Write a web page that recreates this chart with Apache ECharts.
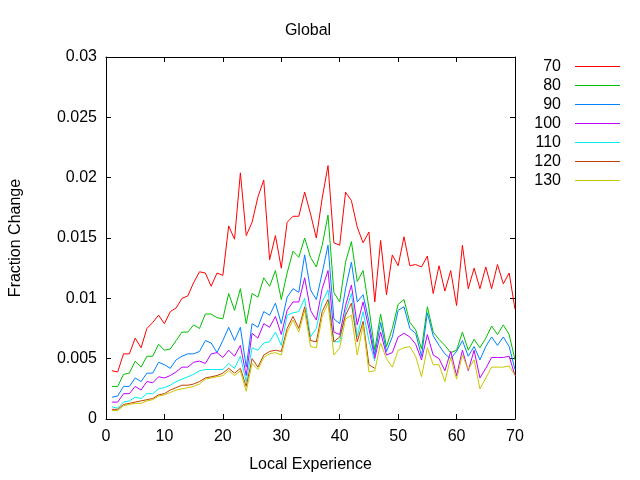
<!DOCTYPE html>
<html>
<head>
<meta charset="utf-8">
<script src="https://cdn.jsdelivr.net/npm/echarts@6/dist/echarts.min.js"></script>
<style>html,body{margin:0;padding:0;background:#fff;}#c{width:640px;height:480px;}</style>
</head>
<body>
<div id="c"></div>
<script>
const experience = [1,2,3,4,5,6,7,8,9,10,11,12,13,14,15,16,17,18,19,20,21,22,23,24,25,26,27,28,29,30,31,32,33,34,35,36,37,38,39,40,41,42,43,44,45,46,47,48,49,50,51,52,53,54,55,56,57,58,59,60,61,62,63,64,65,66,67,68,69,70];
const seriesNames = ["70","80","90","100","110","120","130"];
const s70 = [0.0040,0.0039,0.0054,0.0054,0.0067,0.0059,0.0075,0.0080,0.0086,0.0079,0.0089,0.0092,0.0100,0.0102,0.0113,0.0122,0.0121,0.0110,0.0121,0.0119,0.0160,0.0149,0.0204,0.0152,0.0163,0.0184,0.0198,0.0132,0.0152,0.0125,0.0163,0.0168,0.0168,0.0188,0.0170,0.0150,0.0183,0.0210,0.0146,0.0144,0.0188,0.0181,0.0159,0.0146,0.0155,0.0097,0.0148,0.0103,0.0136,0.0127,0.0151,0.0127,0.0128,0.0126,0.0135,0.0104,0.0127,0.0106,0.0123,0.0094,0.0144,0.0108,0.0125,0.0108,0.0126,0.0108,0.0128,0.0112,0.0121,0.0091];
const s80 = [0.0027,0.0027,0.0037,0.0038,0.0048,0.0043,0.0052,0.0052,0.0062,0.0057,0.0058,0.0065,0.0072,0.0072,0.0078,0.0075,0.0087,0.0087,0.0084,0.0083,0.0104,0.0090,0.0108,0.0079,0.0104,0.0101,0.0117,0.0110,0.0123,0.0099,0.0121,0.0139,0.0134,0.0150,0.0134,0.0126,0.0144,0.0169,0.0105,0.0097,0.0130,0.0147,0.0114,0.0123,0.0092,0.0057,0.0087,0.0060,0.0075,0.0095,0.0099,0.0080,0.0074,0.0058,0.0093,0.0072,0.0066,0.0061,0.0055,0.0057,0.0072,0.0057,0.0066,0.0059,0.0067,0.0077,0.0070,0.0078,0.0070,0.0049];
const s90 = [0.0018,0.0019,0.0027,0.0027,0.0034,0.0031,0.0038,0.0038,0.0047,0.0045,0.0042,0.0049,0.0052,0.0054,0.0054,0.0056,0.0065,0.0063,0.0055,0.0065,0.0076,0.0065,0.0076,0.0043,0.0079,0.0076,0.0089,0.0086,0.0096,0.0079,0.0101,0.0108,0.0105,0.0136,0.0107,0.0099,0.0121,0.0144,0.0083,0.0079,0.0108,0.0130,0.0097,0.0103,0.0081,0.0053,0.0080,0.0056,0.0068,0.0090,0.0093,0.0075,0.0071,0.0052,0.0088,0.0069,0.0061,0.0054,0.0050,0.0056,0.0065,0.0052,0.0060,0.0049,0.0060,0.0068,0.0061,0.0068,0.0060,0.0041];
const s100 = [0.0014,0.0014,0.0021,0.0021,0.0027,0.0024,0.0031,0.0030,0.0035,0.0034,0.0036,0.0039,0.0043,0.0043,0.0047,0.0048,0.0046,0.0054,0.0055,0.0051,0.0057,0.0052,0.0061,0.0036,0.0071,0.0067,0.0079,0.0076,0.0085,0.0070,0.0090,0.0097,0.0097,0.0117,0.0090,0.0082,0.0108,0.0123,0.0072,0.0070,0.0094,0.0111,0.0078,0.0097,0.0075,0.0050,0.0072,0.0053,0.0055,0.0068,0.0071,0.0068,0.0062,0.0049,0.0070,0.0053,0.0050,0.0040,0.0056,0.0036,0.0057,0.0040,0.0057,0.0034,0.0042,0.0051,0.0051,0.0051,0.0052,0.0036];
const s110 = [0.0010,0.0009,0.0014,0.0015,0.0018,0.0017,0.0021,0.0021,0.0025,0.0026,0.0028,0.0031,0.0033,0.0035,0.0037,0.0040,0.0041,0.0041,0.0041,0.0041,0.0046,0.0042,0.0052,0.0031,0.0059,0.0057,0.0063,0.0064,0.0072,0.0061,0.0086,0.0088,0.0089,0.0100,0.0068,0.0075,0.0097,0.0107,0.0064,0.0064,0.0089,0.0104,0.0068,0.0089,0.0065,0.0048];
const s120 = [0.0008,0.0008,0.0012,0.0013,0.0014,0.0015,0.0016,0.0017,0.0020,0.0021,0.0024,0.0026,0.0028,0.0028,0.0029,0.0031,0.0034,0.0035,0.0036,0.0038,0.0042,0.0038,0.0042,0.0027,0.0050,0.0043,0.0053,0.0056,0.0057,0.0056,0.0075,0.0085,0.0075,0.0093,0.0065,0.0064,0.0089,0.0099,0.0064,0.0068,0.0086,0.0096,0.0064,0.0081,0.0045,0.0042];
const s130 = [0.0007,0.0007,0.0011,0.0012,0.0013,0.0013,0.0015,0.0016,0.0019,0.0020,0.0022,0.0024,0.0025,0.0026,0.0027,0.0029,0.0033,0.0034,0.0035,0.0036,0.0040,0.0036,0.0040,0.0023,0.0046,0.0041,0.0051,0.0054,0.0055,0.0053,0.0072,0.0082,0.0072,0.0090,0.0060,0.0059,0.0085,0.0096,0.0053,0.0059,0.0083,0.0086,0.0053,0.0078,0.0039,0.0040,0.0063,0.0050,0.0043,0.0057,0.0059,0.0060,0.0052,0.0035,0.0059,0.0045,0.0045,0.0031,0.0051,0.0033,0.0053,0.0041,0.0049,0.0025,0.0034,0.0043,0.0043,0.0043,0.0044,0.0036];
const xTicks = [0,10,20,30,40,50,60,70];
const yTicks = [0,0.005,0.01,0.015,0.02,0.025,0.03];

const seriesValues = [s70,s80,s90,s100,s110,s120,s130];
const colors = ["#ff0000","#00c000","#0080ff","#c000ff","#00eeee","#c04000","#c8c800"];
const FONT = "Liberation Sans";
const FS = 16;
const chart = echarts.init(document.getElementById('c'), null, {renderer:'canvas'});

function axisCommon(show){
  return {
    axisLine:{show:true,onZero:false,lineStyle:{color:'#000',width:1}},
    axisTick:{show:true,inside:true,length:5,lineStyle:{color:'#000',width:1}},
    splitLine:{show:false},
    axisLabel:{show:show,color:'#000',fontFamily:FONT,fontSize:FS}
  };
}
const xMin = xTicks[0], xMax = xTicks[xTicks.length-1], xInt = xTicks[1]-xTicks[0];
const yMin = yTicks[0], yMax = yTicks[yTicks.length-1], yInt = yTicks[1]-yTicks[0];

const option = {
  animation:false,
  backgroundColor:'#fff',
  title:{text:'Global',left:303,top:18,textAlign:'center',textStyle:{fontFamily:FONT,fontSize:FS,fontWeight:'normal',color:'#000'}},
  grid:{left:105,right:125,top:57,bottom:61},
  legend:{
    orient:'vertical',left:531,top:57,padding:0,itemGap:0,
    align:'right',icon:'rect',itemWidth:45,itemHeight:1,
    data:seriesNames,
    textStyle:{fontFamily:FONT,fontSize:FS,color:'#000',width:30,align:'right',padding:[0,9,0,0],lineHeight:19}
  },
  xAxis:[
    Object.assign(axisCommon(true),{type:'value',min:xMin,max:xMax,interval:xInt,position:'bottom',
      name:'Local Experience',nameLocation:'middle',nameGap:38,nameTextStyle:{fontFamily:FONT,fontSize:FS,color:'#000'}}),
    Object.assign(axisCommon(false),{type:'value',min:xMin,max:xMax,interval:xInt,position:'top'})
  ],
  yAxis:[
    Object.assign(axisCommon(true),{type:'value',min:yMin,max:yMax,interval:yInt,position:'left',
      name:'Fraction Change',nameLocation:'middle',nameGap:82,nameTextStyle:{fontFamily:FONT,fontSize:FS,color:'#000'}}),
    Object.assign(axisCommon(false),{type:'value',min:yMin,max:yMax,interval:yInt,position:'right'})
  ],
  series: seriesNames.map((n,i)=>({
    name:n,type:'line',xAxisIndex:0,yAxisIndex:0,
    data: seriesValues[i].map((v,j)=>[experience[j],v]),
    showSymbol:false,symbol:'none',
    lineStyle:{color:colors[i],width:1},
    itemStyle:{color:colors[i]},
    emphasis:{disabled:true}
  }))
};
option.yAxis[0].axisLabel.margin = 9;
option.yAxis[0].axisLabel.formatter = v => (v===0?'0':String(+v.toFixed(4)));
option.xAxis[0].axisLabel.margin = 10;
chart.setOption(option);
</script>
</body>
</html>
